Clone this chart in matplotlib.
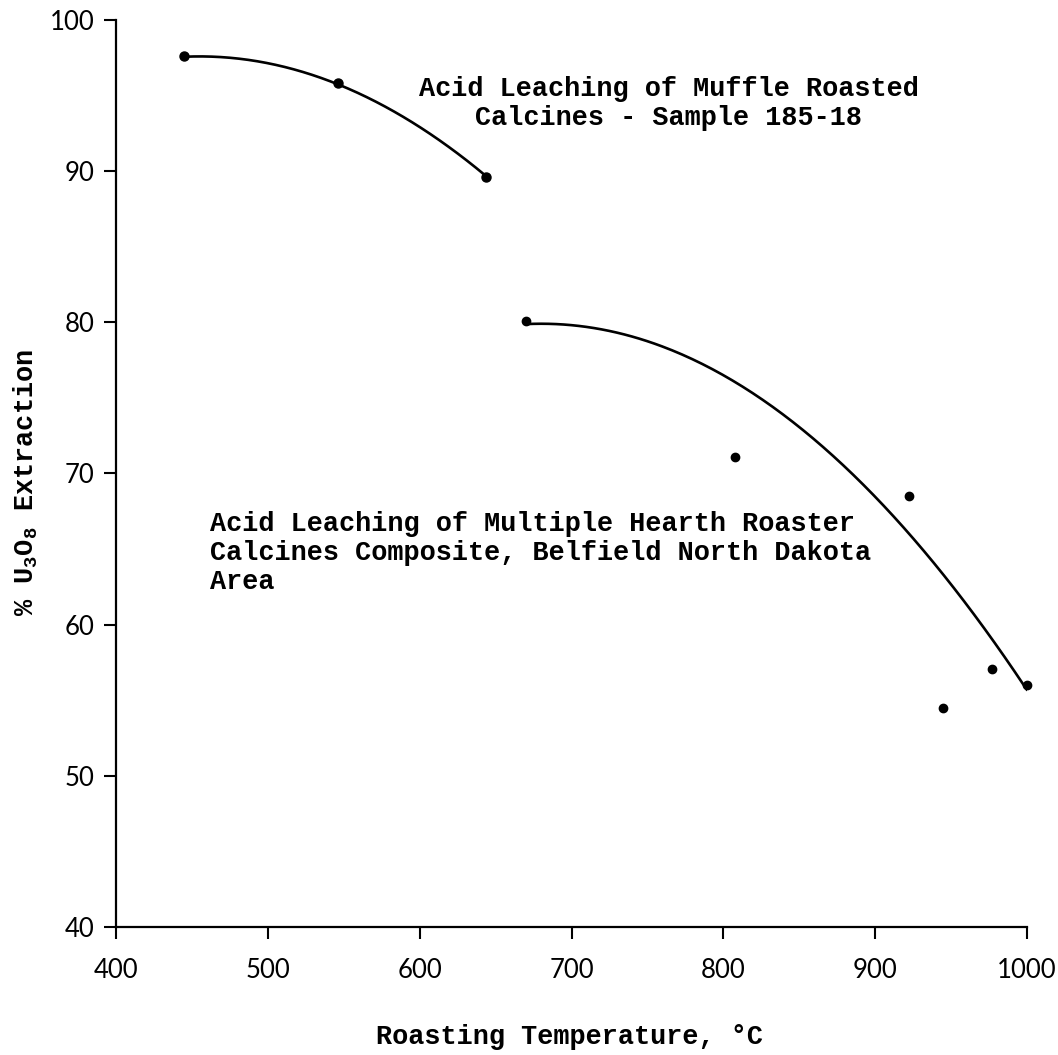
import numpy as np
import matplotlib
matplotlib.use('Agg')
import matplotlib.pyplot as plt

# Measured extraction points
muffle_temp = [445, 546, 644]
muffle_extr = [97.6, 95.8, 89.6]

hearth_temp = [670, 808, 922, 945, 977, 1000]
hearth_extr = [80.1, 71.1, 68.5, 54.5, 57.1, 56.0]

# Points
muffle_curve_t = [445, 493, 546, 583, 615, 644]
muffle_curve_e = [97.6, 97.2, 95.8, 93.9, 92.0, 89.6]

hearth_curve_t = [670, 745, 808, 862, 905, 949, 1000]
hearth_curve_e = [80.1, 78.2, 76.4, 72.7, 67.8, 62.1, 56.0]

x_ticks = [400, 500, 600, 700, 800, 900, 1000]
y_ticks = [40, 50, 60, 70, 80, 90, 100]

type_font = 'Liberation Mono'
num_font = 'Lato'

plt.rcParams['mathtext.fontset'] = 'custom'
plt.rcParams['mathtext.rm'] = type_font + ':bold'
plt.rcParams['mathtext.it'] = type_font + ':bold'

fig = plt.figure(figsize=(10.58, 10.55), dpi=100)
ax = fig.add_axes([116 / 1058, 128 / 1055, 911 / 1058, 907 / 1055])

def smooth(t, e):
    coef = np.polyfit(t, e, 2)
    tt = np.linspace(t[0], t[-1], 200)
    return tt, np.polyval(coef, tt)

for ct, ce in [(muffle_curve_t, muffle_curve_e), (hearth_curve_t, hearth_curve_e)]:
    tt, ee = smooth(ct, ce)
    ax.plot(tt, ee, color='black', linewidth=1.9, solid_capstyle='round')

ax.plot(muffle_temp, muffle_extr, 'o', color='black', markersize=6.5, clip_on=False)
ax.plot(hearth_temp, hearth_extr, 'o', color='black', markersize=6, clip_on=False)

ax.set_xlim(400, 1000)
ax.set_ylim(40, 100)
ax.set_xticks(x_ticks)
ax.set_yticks(y_ticks)
ax.spines['top'].set_visible(False)
ax.spines['right'].set_visible(False)
for s in ['left', 'bottom']:
    ax.spines[s].set_linewidth(1.6)
ax.tick_params(direction='out', length=8.5, width=1.5)
ax.tick_params(axis='x', pad=14)
ax.tick_params(axis='y', pad=7)
for lab in ax.get_xticklabels() + ax.get_yticklabels():
    lab.set_fontfamily(num_font)
    lab.set_fontsize(18.5)

ax.set_xlabel('Roasting Temperature, °C', fontfamily=type_font,
              fontweight='bold', fontsize=19.4)
ax.xaxis.set_label_coords(0.498, -0.107)
ax.set_ylabel(r'% U$_3$O$_8$ Extraction', fontfamily=type_font,
              fontweight='bold', fontsize=19.4)
ax.yaxis.set_label_coords(-0.083, 0.49)

ax.text(764, 94.5, 'Acid Leaching of Muffle Roasted\nCalcines - Sample 185-18',
        fontfamily=type_font, fontweight='bold', fontsize=19.4,
        ha='center', va='center', multialignment='center', linespacing=1.15)
ax.text(462, 64.75, 'Acid Leaching of Multiple Hearth Roaster\n'
        'Calcines Composite, Belfield North Dakota\nArea',
        fontfamily=type_font, fontweight='bold', fontsize=19.4,
        ha='left', va='center', linespacing=1.15)

fig.savefig('out.png', dpi=100, facecolor='white')
